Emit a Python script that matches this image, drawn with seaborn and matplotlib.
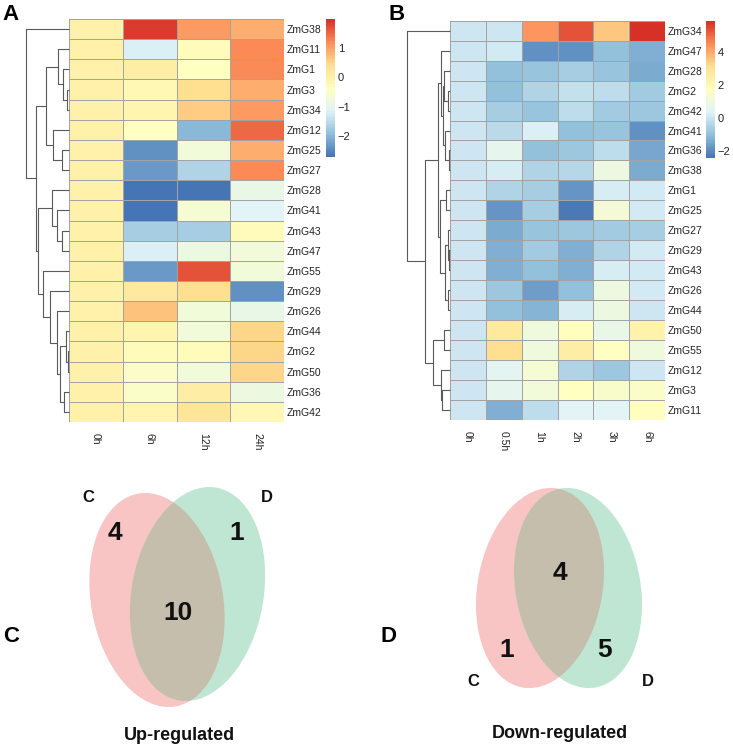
import numpy as np
import pandas as pd
import matplotlib
matplotlib.use("Agg")
import matplotlib.pyplot as plt
import seaborn as sns
from matplotlib.colors import LinearSegmentedColormap
from matplotlib.patches import Ellipse

# ---- data: panel A (log2 fold change vs 0h) ----
genes_a = ["ZmG38", "ZmG11", "ZmG1", "ZmG3", "ZmG34", "ZmG12", "ZmG25", "ZmG27",
           "ZmG28", "ZmG41", "ZmG43", "ZmG47", "ZmG55", "ZmG29", "ZmG26", "ZmG44",
           "ZmG2", "ZmG50", "ZmG36", "ZmG42"]
times_a = ["0h", "6h", "12h", "24h"]
vals_a = [
    [0, 1.9, 1.1, 0.9],
    [0, -1.2, -0.3, 1.2],
    [0, 0.1, -0.4, 1.2],
    [0, -0.2, 0.4, 0.9],
    [0, -0.1, 0.6, 1.1],
    [0, -0.4, -2.0, 1.5],
    [0, -2.4, -0.7, 0.9],
    [0, -2.3, -1.6, 1.2],
    [0, -2.7, -2.7, -0.9],
    [0, -2.7, -0.6, -1.1],
    [0, -1.7, -1.7, -0.3],
    [0, -1.2, -0.8, -0.7],
    [0, -2.3, 1.7, -0.7],
    [0, 0.2, 0.4, -2.4],
    [0, 0.7, -0.7, -0.9],
    [0, -0.1, -0.7, 0.5],
    [0, -0.3, -0.3, 0.5],
    [0, -0.5, -0.7, 0.5],
    [0, -0.5, 0.1, -0.8],
    [0, -0.1, 0.3, -0.2],
]
# row dendrogram: [height, left, right]
tree_a = [43, "ZmG38",
          [33,
           [23,
            [11, "ZmG11", [6, "ZmG1", [2, "ZmG3", "ZmG34"]]],
            [16, "ZmG12", [7, "ZmG25", "ZmG27"]]],
           [31,
            [17, "ZmG28", [12, "ZmG41", [7, "ZmG43", "ZmG47"]]],
            [26, "ZmG55",
             [19, "ZmG29",
              [12, "ZmG26",
               [9, [3, "ZmG44", [1.5, "ZmG2", "ZmG50"]], [5, "ZmG36", "ZmG42"]]]]]]]]

# ---- data: panel B ----
genes_b = ["ZmG34", "ZmG47", "ZmG28", "ZmG2", "ZmG42", "ZmG41", "ZmG36", "ZmG38",
           "ZmG1", "ZmG25", "ZmG27", "ZmG29", "ZmG43", "ZmG26", "ZmG44", "ZmG50",
           "ZmG55", "ZmG12", "ZmG3", "ZmG11"]
times_b = ["0h", "0.5h", "1h", "2h", "3h", "6h"]
vals_b = [
    [0, 0.0, 4.3, 5.3, 3.5, 5.8],
    [0, 0.1, -1.9, -1.9, -1.0, -1.3],
    [0, -1.0, -0.9, -0.6, -0.9, -1.4],
    [0, -1.0, -0.5, -0.1, -0.2, -0.7],
    [0, -0.6, -0.9, -0.2, -0.7, -0.8],
    [0, -0.3, 0.3, -1.0, -0.9, -1.9],
    [0, 0.6, -1.0, -0.8, -0.2, -1.5],
    [0, 0.2, -0.5, -0.4, 0.9, -1.4],
    [0, -0.5, -0.6, -1.8, 0.2, 0.1],
    [0, -1.8, -0.6, -2.3, 1.2, 0.1],
    [0, -1.4, -0.9, -0.8, -0.7, -0.6],
    [0, -1.3, -0.7, -1.3, -0.5, 0.1],
    [0, -1.3, -1.0, -1.3, 0.2, 0.1],
    [0, -0.8, -1.6, -1.0, 0.9, 0.1],
    [0, -1.0, -1.2, 0.2, 0.9, 0.0],
    [0, 2.7, 1.0, 1.8, 0.8, 2.3],
    [0, 3.1, 1.0, 2.5, 1.7, 1.0],
    [0, 0.5, 1.3, -0.5, -0.8, 0.0],
    [0, 0.6, 1.1, 1.7, 1.4, 1.5],
    [0, -1.3, -0.2, 0.4, 0.4, 1.8],
]
tree_b = [43, "ZmG34",
          [25,
           [12,
            [9, "ZmG47",
             [7, [6, "ZmG28", [2, "ZmG2", "ZmG42"]],
                 [5, "ZmG41", [1.5, "ZmG36", "ZmG38"]]]],
            [10, [4, "ZmG1", "ZmG25"],
             [5.5, [2.5, "ZmG27", [1.5, "ZmG29", "ZmG43"]], [2.5, "ZmG26", "ZmG44"]]]],
           [17, [6, "ZmG50", "ZmG55"],
            [9.5, "ZmG12", [8, "ZmG3", "ZmG11"]]]]]

# ---- Venn counts ----
venn_sets = ["C", "D"]
up_counts = [4, 10, 1]      # C only, both, D only
down_counts = [1, 4, 5]

sns.set_style("white")
plt.rcParams["font.family"] = ["Liberation Sans", "DejaVu Sans"]

W, H = 733, 752
fig = plt.figure(figsize=(W / 100, H / 100), dpi=100)


def px_axes(x0, y0, x1, y1):
    return fig.add_axes([x0 / W, 1 - y1 / H, (x1 - x0) / W, (y1 - y0) / H])


cmap = LinearSegmentedColormap.from_list(
    "ph", ["#4575B4", "#91BFDB", "#E0F3F8", "#FFFFBF", "#FEE090", "#FC8D59", "#D73027"], N=100)


def draw_tree(ax, node, order):
    if isinstance(node, str):
        return order.index(node) + 0.5, 0
    h, left, right = node
    y1, h1 = draw_tree(ax, left, order)
    y2, h2 = draw_tree(ax, right, order)
    ax.plot([h1, h, h, h2], [y1, y1, y2, y2], color="#5a5a5a", lw=0.8,
            solid_capstyle="butt", clip_on=False)
    return (y1 + y2) / 2, h


def heat_panel(genes, times, vals, tree, box, cbox, dbox, vmin, vmax, ticks):
    df = pd.DataFrame(vals, index=genes, columns=times)
    ax = px_axes(*box)
    cax = px_axes(*cbox)
    sns.heatmap(df, ax=ax, cmap=cmap, vmin=vmin, vmax=vmax, linewidths=0.5,
                linecolor="#a3a3a3", cbar_ax=cax, cbar_kws={"ticks": ticks})
    ax.yaxis.tick_right()
    ax.set_yticklabels(genes, rotation=0, fontsize=7.5, color="#222222")
    ax.set_xticklabels(times, rotation=-90, fontsize=7.5, color="#222222")
    ax.tick_params(axis="y", length=0, pad=2)
    ax.tick_params(axis="x", length=0, pad=8)
    ax.set_xlabel("")
    ax.set_ylabel("")
    cax.tick_params(length=0, pad=2, labelsize=8, colors="#222222")
    ax.collections[0].colorbar.outline.set_visible(False)
    dax = px_axes(*dbox)
    draw_tree(dax, tree, genes)
    dax.set_xlim(dbox[2] - dbox[0], 0)
    dax.set_ylim(len(genes), 0)
    dax.axis("off")


heat_panel(genes_a, times_a, vals_a, tree_a, (69, 19, 284, 422), (326, 19, 335, 157),
           (20, 19, 69, 422), -2.72, 2.0, [-2, -1, 0, 1])
heat_panel(genes_b, times_b, vals_b, tree_b, (450, 20.7, 665, 420), (706, 21, 715, 158),
           (400, 20.7, 450, 420), -2.42, 5.87, [-2, 0, 2, 4])

# ---- Venn diagrams (pixel coordinates) ----
vax = fig.add_axes([0, 0, 1, 1], zorder=-1)
vax.set_xlim(0, W)
vax.set_ylim(H, 0)
vax.axis("off")

pink, green, both = "#F8C4C4", "#BFE6D3", "#C6BEAD"


def venn(c1, c2, a, b, ang1, ang2):
    e1 = Ellipse(c1, 2 * b, 2 * a, angle=ang1, fc=pink, ec="none")
    e2 = Ellipse(c2, 2 * b, 2 * a, angle=ang2, fc=green, ec="none")
    e3 = Ellipse(c2, 2 * b, 2 * a, angle=ang2, fc=both, ec="none")
    vax.add_patch(e1)
    vax.add_patch(e2)
    vax.add_patch(e3)
    e3.set_clip_path(e1)


venn((157, 600), (197.5, 594), 108, 66, -10, 10)
venn((540, 588), (578, 588), 101, 62.5, 10, -10)

num_kw = dict(fontsize=19, fontweight="bold", ha="center", va="center", color="#111111")
lab_kw = dict(fontsize=12, fontweight="bold", ha="center", va="center", color="#111111")
title_kw = dict(fontsize=13, fontweight="bold", ha="center", va="center", color="#111111")

vax.text(115, 533, str(up_counts[0]), **num_kw)
vax.text(178, 613, str(up_counts[1]), **num_kw)
vax.text(237, 533, str(up_counts[2]), **num_kw)
vax.text(88, 497, venn_sets[0], **lab_kw)
vax.text(267, 497, venn_sets[1], **lab_kw)
vax.text(179, 735, "Up-regulated", **title_kw)

vax.text(507, 650, str(down_counts[0]), **num_kw)
vax.text(560, 573, str(down_counts[1]), **num_kw)
vax.text(605, 650, str(down_counts[2]), **num_kw)
vax.text(473, 682, venn_sets[0], **lab_kw)
vax.text(648, 682, venn_sets[1], **lab_kw)
vax.text(560, 733, "Down-regulated", **title_kw)

# panel letters
let_kw = dict(fontsize=16, fontweight="bold", ha="left", va="center", color="black")
vax.text(2, 15, "A", **let_kw)
vax.text(389, 14, "B", **let_kw)
vax.text(3, 637, "C", **let_kw)
vax.text(381, 637, "D", **let_kw)

fig.savefig("out.png", dpi=100, facecolor="white")
